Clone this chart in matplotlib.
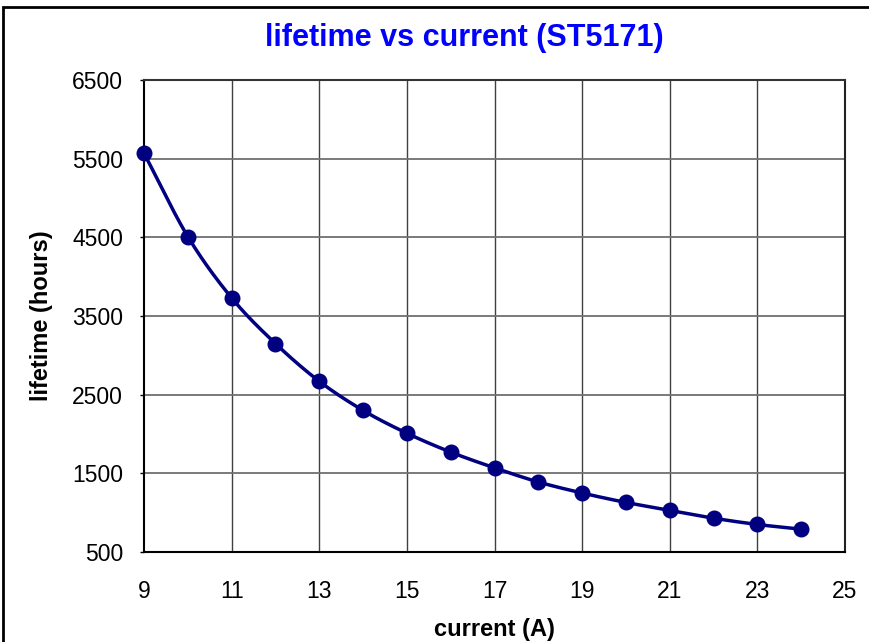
import numpy as np
import matplotlib
matplotlib.use("Agg")
import matplotlib.pyplot as plt
from matplotlib.patches import Rectangle

current = [9, 10, 11, 12, 13, 14, 15, 16, 17, 18, 19, 20, 21, 22, 23, 24]
lifetime = [5570, 4510, 3730, 3150, 2670, 2300, 2010, 1770, 1570, 1390, 1250, 1130, 1030, 930, 850, 790]
x_ticks = [9, 11, 13, 15, 17, 19, 21, 23, 25]
y_ticks = [500, 1500, 2500, 3500, 4500, 5500, 6500]

plt.rcParams['font.family'] = ['Liberation Sans', 'DejaVu Sans']

def catmull_rom(xs, ys, n=30):
    xs = np.asarray(xs, float); ys = np.asarray(ys, float)
    px = np.concatenate([[2*xs[0]-xs[1]], xs, [2*xs[-1]-xs[-2]]])
    py = np.concatenate([[2*ys[0]-ys[1]], ys, [2*ys[-1]-ys[-2]]])
    ox, oy = [], []
    t = np.linspace(0, 1, n, endpoint=False)
    for i in range(1, len(px)-2):
        for arr, out in ((px, ox), (py, oy)):
            p0, p1, p2, p3 = arr[i-1], arr[i], arr[i+1], arr[i+2]
            out.extend(0.5*((2*p1) + (-p0+p2)*t + (2*p0-5*p1+4*p2-p3)*t**2 + (-p0+3*p1-3*p2+p3)*t**3))
    ox.append(xs[-1]); oy.append(ys[-1])
    return np.array(ox), np.array(oy)

fig = plt.figure(figsize=(8.69, 6.42), dpi=100)
ax = fig.add_axes([144/869, 1-552/642, (845-144)/869, (552-80)/642])

sx, sy = catmull_rom(current, lifetime)
ax.plot(sx, sy, color='#000080', lw=2.5, zorder=3, clip_on=False)
ax.plot(current, lifetime, 'o', color='#000080', ms=10.5, zorder=4, clip_on=False)

ax.set_xlim(9, 25)
ax.set_ylim(500, 6500)
ax.set_xticks(x_ticks)
ax.set_yticks(y_ticks)
ax.tick_params(axis='both', labelsize=16.5, length=3, width=1, direction='out')
ax.tick_params(axis='y', pad=12)
ax.tick_params(axis='x', pad=20, length=0)
for v in x_ticks[1:-1]:
    ax.axvline(v, color='#404040', lw=1, zorder=1)
for v in y_ticks[1:-1]:
    ax.axhline(v, color='#707070', lw=1.3, zorder=1)
for s in ax.spines.values():
    s.set_linewidth(1.5)
    s.set_color('black')
ax.spines['top'].set_color('#333333')
ax.spines['right'].set_color('#222222')

ax.set_xlabel('current (A)', fontsize=17, fontweight='bold', labelpad=11)
ax.set_ylabel('lifetime (hours)', fontsize=17, fontweight='bold', labelpad=14)
fig.text(464/869, 1-38/642, 'lifetime vs current (ST5171)', color='#0000FF', fontsize=22,
         fontweight='bold', ha='center', va='center')

fig.patches.append(Rectangle((3/869, -0.1), 1.2, 1-7/642+0.1, transform=fig.transFigure,
                             fill=False, edgecolor='black', lw=2))

fig.savefig('out.png', dpi=100)
